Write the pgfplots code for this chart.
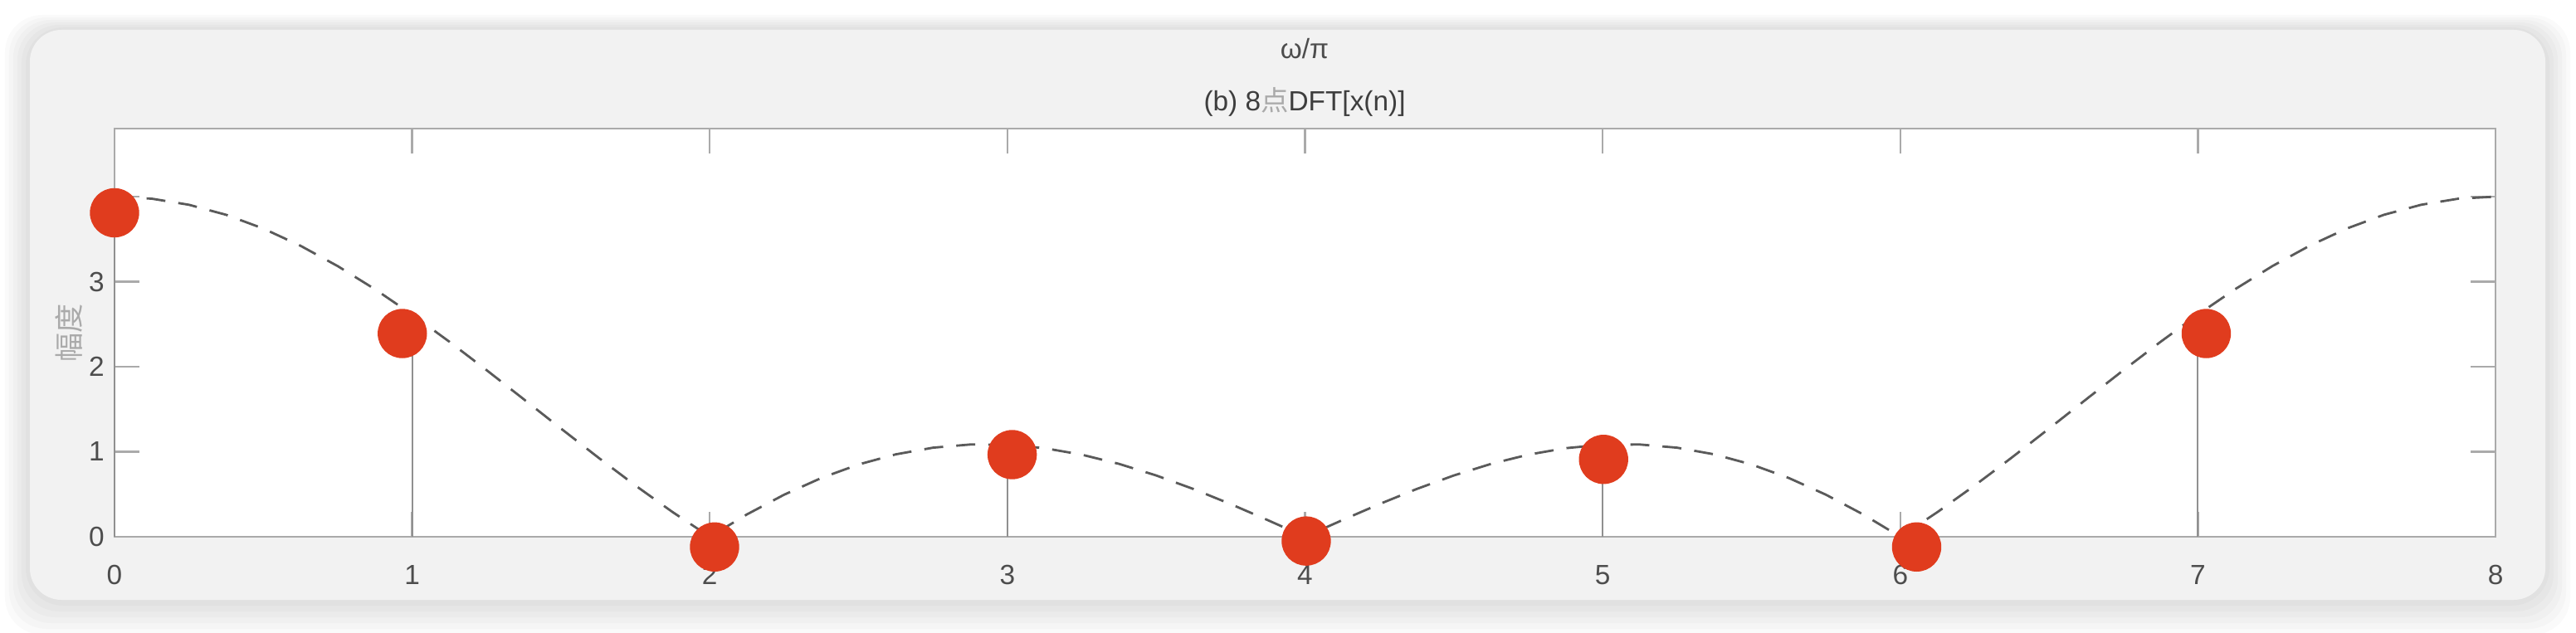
\documentclass[border=0pt]{standalone}
\usepackage{fontspec}
\setmainfont{Liberation Sans}
\newfontfamily\cjk{Noto Sans CJK SC}
\usepackage{pgfplots}
\pgfplotsset{compat=1.18}
\definecolor{dotred}{HTML}{E03C1E}
\definecolor{panel}{HTML}{F2F2F2}
\definecolor{axgray}{HTML}{AAAAAA}
\definecolor{txtgray}{HTML}{4D4D4D}
\definecolor{curvegray}{HTML}{5A5A5A}
\definecolor{stemgray}{HTML}{909090}
\begin{document}
\begin{tikzpicture}[x=1cm,y=1cm]
\useasboundingbox (0,0) rectangle (31.04,7.62);
\fill[white] (0,0) rectangle (31.04,7.62);
% soft shadow round the panel
\foreach \i in {1,...,6}
  \fill[black,opacity=0.018,rounded corners=0.45cm] (0.36-0.05*\i,0.39-0.07*\i) rectangle (30.67+0.05*\i,7.26+0.03*\i);
\fill[panel,rounded corners=0.38cm] (0.36,0.39) rectangle (30.67,7.26);
\node[font=\fontsize{9.5}{11}\selectfont,text=txtgray] at (15.72,7.03) {ω/π};
\node[font=\fontsize{9.5}{11}\selectfont,text=txtgray!80!black] at (15.72,6.39) {(b) 8{\cjk\color{axgray}点}DFT[x(n)]};
\begin{axis}[
  at={(1.38cm,1.15cm)},anchor=south west,
  scale only axis,width=28.69cm,height=4.92cm,
  xmin=0,xmax=8,ymin=0,ymax=4.8,
  xtick={0,...,8},ytick={0,...,4},yticklabels={0,1,2,3,{}},
  tick align=inside,major tick length=0.3cm,
  axis line style={axgray,line width=0.8pt},
  tick style={axgray,line width=0.7pt},
  axis background/.style={fill=white},
  ticklabel style={font=\fontsize{9.5}{11}\selectfont,text=txtgray},
  xticklabel style={yshift=-0.22cm},
  /pgf/number format/assume math mode=true,
  ylabel={{\cjk 幅度}},
  every axis y label/.style={at={(axis description cs:0,0.5)},xshift=-0.55cm,rotate=90,anchor=center,
    font=\fontsize{10}{12}\selectfont,text=axgray},
  clip=false,
]
% |X(e^jw)| envelope
\addplot[curvegray,line width=0.8pt,dash pattern=on 6.5pt off 4.5pt] coordinates {
(0,4) (0.125,3.9759) (0.25,3.9043) (0.375,3.7864) (0.5,3.6245) (0.625,3.4220) (0.75,3.1827) (0.875,2.9113)
(1,2.6131) (1.125,2.2939) (1.25,1.9599) (1.375,1.6173) (1.5,1.2728) (1.625,0.9326) (1.75,0.6032) (1.875,0.2905)
(2,0) (2.125,0.2633) (2.25,0.4951) (2.375,0.6917) (2.5,0.8504) (2.625,0.9694) (2.75,1.0476) (2.875,1.0850)
(3,1.0824) (3.125,1.0417) (3.25,0.9655) (3.375,0.8572) (3.5,0.7210) (3.625,0.5616) (3.75,0.3845) (3.875,0.1953)
(4,0) (4.125,0.1953) (4.25,0.3845) (4.375,0.5616) (4.5,0.7210) (4.625,0.8572) (4.75,0.9655) (4.875,1.0417)
(5,1.0824) (5.125,1.0850) (5.25,1.0476) (5.375,0.9694) (5.5,0.8504) (5.625,0.6917) (5.75,0.4951) (5.875,0.2633)
(6,0) (6.125,0.2905) (6.25,0.6032) (6.375,0.9326) (6.5,1.2728) (6.625,1.6173) (6.75,1.9599) (6.875,2.2939)
(7,2.6131) (7.125,2.9113) (7.25,3.1827) (7.375,3.4220) (7.5,3.6245) (7.625,3.7864) (7.75,3.9043) (7.875,3.9759)
(8,4)};
% stems
\addplot[ycomb,stemgray,line width=0.6pt,no marks] coordinates {
(0,3.81) (1,2.39) (2,0) (3,0.97) (4,0) (5,0.91) (6,0) (7,2.39)};
% DFT points
\addplot[only marks,mark=*,mark size=0.29cm,dotred] coordinates {
(0,3.81) (0.967,2.39) (2.016,-0.12) (3.016,0.966) (4.004,-0.05) (5.003,0.91) (6.055,-0.12) (7.028,2.39)};
\end{axis}
\end{tikzpicture}
\end{document}
